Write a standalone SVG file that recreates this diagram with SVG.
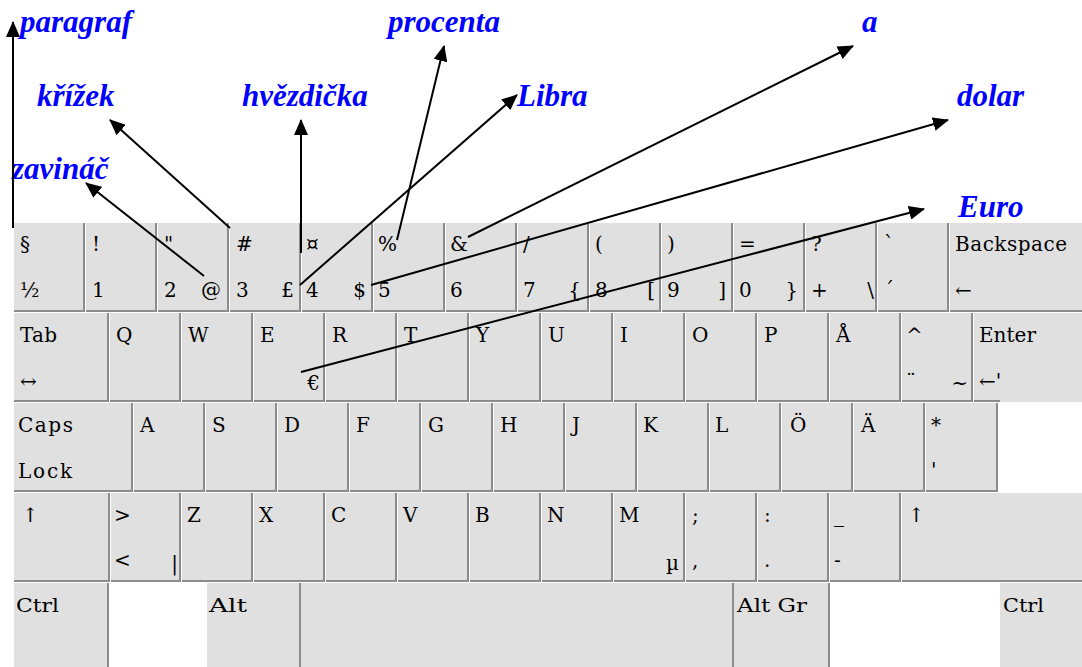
<svg xmlns="http://www.w3.org/2000/svg" width="1082" height="667" viewBox="0 0 1082 667">
<style>
.k{fill:#e0e0e0}
.sh{fill:none;stroke:#8c8c8c;stroke-width:2}
.t{font-family:"DejaVu Serif",serif;font-size:20px;fill:#000}
.r{text-anchor:end}
.c{font-size:19px}
.lbl{font-family:"Liberation Serif","Times New Roman",serif;font-weight:bold;font-style:italic;font-size:31px;fill:#0000ff}
.ar{stroke:#000;stroke-width:2;fill:none;marker-end:url(#ah)}
</style>
<defs>
<marker id="ah" viewBox="0 0 16 14" refX="15" refY="7" markerWidth="16" markerHeight="14" markerUnits="userSpaceOnUse" orient="auto"><path d="M0,0 L16,7 L0,14 z" fill="#000"/></marker>
</defs>
<rect width="1082" height="667" fill="#fff"/>
<g id="row1">
<g id="k-sect"><rect class="k" x="14" y="223" width="71" height="89"/><path class="sh" d="M84,223 V311 H14"/><text class="t" x="20" y="251">§</text><text class="t" x="20" y="297">½</text></g>
<g id="k-1"><rect class="k" x="86" y="223" width="71" height="89"/><path class="sh" d="M156,223 V311 H86"/><text class="t" x="92" y="251">!</text><text class="t" x="92" y="297">1</text></g>
<g id="k-2"><rect class="k" x="158" y="223" width="71" height="89"/><path class="sh" d="M228,223 V311 H158"/><text class="t" x="164" y="251">"</text><text class="t" x="164" y="297">2</text><text class="t r" x="221" y="297">@</text></g>
<g id="k-3"><rect class="k" x="230" y="223" width="71" height="89"/><path class="sh" d="M300,223 V311 H230"/><text class="t" x="236" y="251">#</text><text class="t" x="236" y="297">3</text><text class="t r" x="294" y="297">£</text></g>
<g id="k-4"><rect class="k" x="302" y="223" width="71" height="89"/><path class="sh" d="M372,223 V311 H302"/><text class="t" x="306" y="251">¤</text><text class="t" x="306" y="297">4</text><text class="t r" x="366" y="297">$</text></g>
<g id="k-5"><rect class="k" x="374" y="223" width="71" height="89"/><path class="sh" d="M444,223 V311 H374"/><text class="t" x="378" y="251">%</text><text class="t" x="378" y="297">5</text></g>
<g id="k-6"><rect class="k" x="446" y="223" width="71" height="89"/><path class="sh" d="M516,223 V311 H446"/><text class="t" x="450" y="251">&amp;</text><text class="t" x="450" y="297">6</text></g>
<g id="k-7"><rect class="k" x="518" y="223" width="71" height="89"/><path class="sh" d="M588,223 V311 H518"/><text class="t" x="523" y="251">/</text><text class="t" x="523" y="297">7</text><text class="t r" x="581" y="297">{</text></g>
<g id="k-8"><rect class="k" x="590" y="223" width="71" height="89"/><path class="sh" d="M660,223 V311 H590"/><text class="t" x="595" y="251">(</text><text class="t" x="595" y="297">8</text><text class="t r" x="655" y="297">[</text></g>
<g id="k-9"><rect class="k" x="662" y="223" width="71" height="89"/><path class="sh" d="M732,223 V311 H662"/><text class="t" x="667" y="251">)</text><text class="t" x="667" y="297">9</text><text class="t r" x="726" y="297">]</text></g>
<g id="k-0"><rect class="k" x="734" y="223" width="71" height="89"/><path class="sh" d="M804,223 V311 H734"/><text class="t" x="739" y="251">=</text><text class="t" x="739" y="297">0</text><text class="t r" x="798" y="297">}</text></g>
<g id="k-plus"><rect class="k" x="806" y="223" width="71" height="89"/><path class="sh" d="M876,223 V311 H806"/><text class="t" x="811" y="251">?</text><text class="t" x="811" y="297">+</text><text class="t r" x="874" y="297">\</text></g>
<g id="k-acute"><rect class="k" x="878" y="223" width="71" height="89"/><path class="sh" d="M948,223 V311 H878"/><text class="t" x="884" y="251">`</text><text class="t" x="884" y="297">´</text></g>
<g id="k-bksp"><rect class="k" x="950" y="223" width="132" height="89"/><path class="sh" d="M1082,311 H950"/><text class="t" x="955" y="251" textLength="112" lengthAdjust="spacing">Backspace</text><text class="t" x="955" y="297">←</text></g>
</g>
<g id="row2">
<g id="k-tab"><rect class="k" x="14" y="313" width="95" height="89"/><path class="sh" d="M108,313 V401 H14"/><text class="t" x="20" y="342" textLength="37" lengthAdjust="spacing">Tab</text><text class="t" x="20" y="388">↔</text></g>
<g id="k-q"><rect class="k" x="110" y="313" width="71" height="89"/><path class="sh" d="M180,313 V401 H110"/><text class="t" x="116" y="342">Q</text></g>
<g id="k-w"><rect class="k" x="182" y="313" width="71" height="89"/><path class="sh" d="M252,313 V401 H182"/><text class="t" x="188" y="342">W</text></g>
<g id="k-e"><rect class="k" x="254" y="313" width="71" height="89"/><path class="sh" d="M324,313 V401 H254"/><text class="t" x="260" y="342">E</text><text class="t r" x="320" y="390">€</text></g>
<g id="k-r"><rect class="k" x="326" y="313" width="71" height="89"/><path class="sh" d="M396,313 V401 H326"/><text class="t" x="332" y="342">R</text></g>
<g id="k-t"><rect class="k" x="398" y="313" width="71" height="89"/><path class="sh" d="M468,313 V401 H398"/><text class="t" x="404" y="342">T</text></g>
<g id="k-y"><rect class="k" x="470" y="313" width="71" height="89"/><path class="sh" d="M540,313 V401 H470"/><text class="t" x="476" y="342">Y</text></g>
<g id="k-u"><rect class="k" x="542" y="313" width="71" height="89"/><path class="sh" d="M612,313 V401 H542"/><text class="t" x="548" y="342">U</text></g>
<g id="k-i"><rect class="k" x="614" y="313" width="71" height="89"/><path class="sh" d="M684,313 V401 H614"/><text class="t" x="620" y="342">I</text></g>
<g id="k-o"><rect class="k" x="686" y="313" width="71" height="89"/><path class="sh" d="M756,313 V401 H686"/><text class="t" x="692" y="342">O</text></g>
<g id="k-p"><rect class="k" x="758" y="313" width="71" height="89"/><path class="sh" d="M828,313 V401 H758"/><text class="t" x="764" y="342">P</text></g>
<g id="k-aring"><rect class="k" x="830" y="313" width="71" height="89"/><path class="sh" d="M900,313 V401 H830"/><text class="t" x="836" y="342">Å</text></g>
<g id="k-caret"><rect class="k" x="902" y="313" width="71" height="89"/><path class="sh" d="M972,313 V401 H902"/><text class="t" x="906" y="342">^</text><text class="t" x="906" y="388">¨</text><text class="t r" x="968" y="390">~</text></g>
<g id="k-enter"><rect class="k" x="974" y="313" width="108" height="89"/><path class="sh" d="M1000,401 H974"/><text class="t" x="979" y="342" textLength="57" lengthAdjust="spacing">Enter</text><text class="t" x="979" y="388">←'</text></g>
</g>
<g id="row3">
<g id="k-caps"><rect class="k" x="14" y="403" width="119" height="89"/><path class="sh" d="M132,403 V491 H14"/><text class="t" x="18" y="432" textLength="55" lengthAdjust="spacing">Caps</text><text class="t" x="18" y="478" textLength="54" lengthAdjust="spacing">Lock</text></g>
<g id="k-a"><rect class="k" x="134" y="403" width="71" height="89"/><path class="sh" d="M204,403 V491 H134"/><text class="t" x="140" y="432">A</text></g>
<g id="k-s"><rect class="k" x="206" y="403" width="71" height="89"/><path class="sh" d="M276,403 V491 H206"/><text class="t" x="212" y="432">S</text></g>
<g id="k-d"><rect class="k" x="278" y="403" width="71" height="89"/><path class="sh" d="M348,403 V491 H278"/><text class="t" x="284" y="432">D</text></g>
<g id="k-f"><rect class="k" x="350" y="403" width="71" height="89"/><path class="sh" d="M420,403 V491 H350"/><text class="t" x="356" y="432">F</text></g>
<g id="k-g"><rect class="k" x="422" y="403" width="71" height="89"/><path class="sh" d="M492,403 V491 H422"/><text class="t" x="428" y="432">G</text></g>
<g id="k-h"><rect class="k" x="494" y="403" width="71" height="89"/><path class="sh" d="M564,403 V491 H494"/><text class="t" x="500" y="432">H</text></g>
<g id="k-j"><rect class="k" x="566" y="403" width="71" height="89"/><path class="sh" d="M636,403 V491 H566"/><text class="t" x="572" y="432">J</text></g>
<g id="k-k"><rect class="k" x="638" y="403" width="71" height="89"/><path class="sh" d="M708,403 V491 H638"/><text class="t" x="643" y="432">K</text></g>
<g id="k-l"><rect class="k" x="710" y="403" width="71" height="89"/><path class="sh" d="M780,403 V491 H710"/><text class="t" x="715" y="432">L</text></g>
<g id="k-ouml"><rect class="k" x="782" y="403" width="71" height="89"/><path class="sh" d="M852,403 V491 H782"/><text class="t" x="790" y="432">Ö</text></g>
<g id="k-auml"><rect class="k" x="854" y="403" width="71" height="89"/><path class="sh" d="M924,403 V491 H854"/><text class="t" x="861" y="432">Ä</text></g>
<g id="k-star"><rect class="k" x="926" y="403" width="72" height="89"/><path class="sh" d="M997,403 V491 H926"/><text class="t" x="931" y="432">*</text><text class="t" x="931" y="477">'</text></g>
</g>
<g id="row4">
<g id="k-shiftl"><rect class="k" x="14" y="493" width="96" height="89"/><path class="sh" d="M109,493 V581 H14"/><text class="t" x="22" y="522">↑</text></g>
<g id="k-lt"><rect class="k" x="111" y="493" width="70" height="89"/><path class="sh" d="M180,493 V581 H111"/><text class="t" x="114" y="522">&gt;</text><text class="t" x="114" y="567">&lt;</text><text class="t r" x="178" y="570">|</text></g>
<g id="k-z"><rect class="k" x="182" y="493" width="71" height="89"/><path class="sh" d="M252,493 V581 H182"/><text class="t" x="187" y="522">Z</text></g>
<g id="k-x"><rect class="k" x="254" y="493" width="71" height="89"/><path class="sh" d="M324,493 V581 H254"/><text class="t" x="259" y="522">X</text></g>
<g id="k-c"><rect class="k" x="326" y="493" width="71" height="89"/><path class="sh" d="M396,493 V581 H326"/><text class="t" x="331" y="522">C</text></g>
<g id="k-v"><rect class="k" x="398" y="493" width="71" height="89"/><path class="sh" d="M468,493 V581 H398"/><text class="t" x="403" y="522">V</text></g>
<g id="k-b"><rect class="k" x="470" y="493" width="71" height="89"/><path class="sh" d="M540,493 V581 H470"/><text class="t" x="475" y="522">B</text></g>
<g id="k-n"><rect class="k" x="542" y="493" width="71" height="89"/><path class="sh" d="M612,493 V581 H542"/><text class="t" x="547" y="522">N</text></g>
<g id="k-m"><rect class="k" x="614" y="493" width="71" height="89"/><path class="sh" d="M684,493 V581 H614"/><text class="t" x="619" y="522">M</text><text class="t r" x="679" y="570">µ</text></g>
<g id="k-comma"><rect class="k" x="686" y="493" width="71" height="89"/><path class="sh" d="M756,493 V581 H686"/><text class="t" x="692" y="522">;</text><text class="t" x="692" y="567">,</text></g>
<g id="k-period"><rect class="k" x="758" y="493" width="71" height="89"/><path class="sh" d="M828,493 V581 H758"/><text class="t" x="764" y="522">:</text><text class="t" x="764" y="567">.</text></g>
<g id="k-minus"><rect class="k" x="830" y="493" width="71" height="89"/><path class="sh" d="M900,493 V581 H830"/><text class="t" x="834" y="522">_</text><text class="t" x="834" y="567">-</text></g>
<g id="k-shiftr"><rect class="k" x="902" y="493" width="180" height="89"/><path class="sh" d="M1082,581 H902"/><text class="t" x="908" y="522">↑</text></g>
</g>
<g id="row5">
<g id="k-ctrll"><rect class="k" x="14" y="583" width="94" height="84"/><path class="sh" d="M108,583 V667"/><text class="t c" x="16" y="612" textLength="43" lengthAdjust="spacingAndGlyphs">Ctrl</text></g>
<g id="k-alt"><rect class="k" x="207" y="583" width="93" height="84"/><path class="sh" d="M300,583 V667"/><text class="t c" x="209" y="612" textLength="38" lengthAdjust="spacingAndGlyphs">Alt</text></g>
<g id="k-space"><rect class="k" x="301" y="583" width="432" height="84"/><path class="sh" d="M733,583 V667"/></g>
<g id="k-altgr"><rect class="k" x="734" y="583" width="95" height="84"/><path class="sh" d="M829,583 V667"/><text class="t c" x="737" y="612" textLength="70" lengthAdjust="spacingAndGlyphs">Alt Gr</text></g>
<g id="k-ctrlr"><rect class="k" x="1000" y="583" width="82" height="84"/><text class="t c" x="1003" y="612" textLength="41" lengthAdjust="spacingAndGlyphs">Ctrl</text></g>
</g>
<g id="labels">
<g id="l-paragraf"><text class="lbl" x="20" y="32">paragraf</text></g>
<g id="l-procenta"><text class="lbl" x="388" y="32">procenta</text></g>
<g id="l-a"><text class="lbl" x="862" y="32">a</text></g>
<g id="l-krizek"><text class="lbl" x="37" y="106">křížek</text></g>
<g id="l-hvezdicka"><text class="lbl" x="242" y="106">hvězdička</text></g>
<g id="l-libra"><text class="lbl" x="517" y="106">Libra</text></g>
<g id="l-dolar"><text class="lbl" x="957" y="106">dolar</text></g>
<g id="l-zavinac"><text class="lbl" x="12" y="179">zavináč</text></g>
<g id="l-euro"><text class="lbl" x="958" y="217">Euro</text></g>
</g>
<g id="connectors">
<line class="ar" x1="13" y1="228" x2="13" y2="22"/>
<line class="ar" x1="204" y1="276" x2="86" y2="183"/>
<line class="ar" x1="230" y1="228" x2="110" y2="120"/>
<line class="ar" x1="301" y1="253" x2="301" y2="120"/>
<line class="ar" x1="300" y1="285" x2="517" y2="95"/>
<line class="ar" x1="397" y1="240" x2="444" y2="46"/>
<line class="ar" x1="468" y1="237" x2="853" y2="46"/>
<line class="ar" x1="371" y1="285" x2="948" y2="120"/>
<line class="ar" x1="301" y1="372" x2="924" y2="209"/>
</g>
</svg>
